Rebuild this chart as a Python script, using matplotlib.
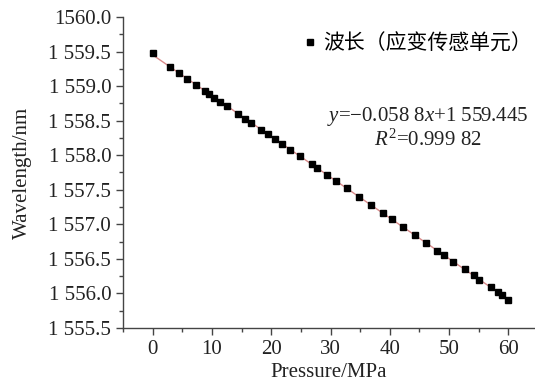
import numpy as np
import matplotlib
matplotlib.use("Agg")
import matplotlib.pyplot as plt
from matplotlib.ticker import MultipleLocator, FuncFormatter

# pressure (MPa) and measured wavelength (nm)
pressure = [0, 3.0, 4.4, 5.8, 7.3, 8.8, 9.5, 10.4, 11.4, 12.5, 14.4, 15.6, 16.6,
            18.3, 19.4, 20.7, 21.8, 23.2, 24.8, 26.8, 27.7, 29.4, 30.9, 32.7,
            34.8, 36.9, 38.9, 40.3, 42.2, 44.3, 46.1, 48.0, 49.1, 50.7, 52.7,
            54.2, 55.1, 57.0, 58.3, 59.0, 59.9]
wavelength = [1559.48, 1559.27, 1559.19, 1559.10, 1559.02, 1558.93, 1558.89,
              1558.83, 1558.77, 1558.71, 1558.60, 1558.53, 1558.47, 1558.37,
              1558.31, 1558.23, 1558.16, 1558.08, 1557.99, 1557.87, 1557.82,
              1557.72, 1557.63, 1557.52, 1557.40, 1557.28, 1557.16, 1557.08,
              1556.96, 1556.84, 1556.73, 1556.62, 1556.56, 1556.46, 1556.35,
              1556.26, 1556.20, 1556.09, 1556.02, 1555.98, 1555.90]
legend_label = "波长（应变传感单元）"
eq_text = r"$y$=−0.058 8$x$+1 559.445"
r2_text = r"$R^2$=0.999 82"

plt.rcParams['font.family'] = ['Liberation Serif', 'Noto Sans CJK SC', 'DejaVu Sans']
plt.rcParams['mathtext.fontset'] = 'custom'
plt.rcParams['mathtext.it'] = 'Liberation Serif:italic'
plt.rcParams['mathtext.rm'] = 'Liberation Serif'

fig = plt.figure(figsize=(5.35, 3.85), dpi=100)
ax = fig.add_axes([0.23, 0.148, 0.77, 0.808])

x = np.array(pressure)
y = np.array(wavelength)
k, b = np.polyfit(x, y, 1)
ax.plot(x, k * x + b, color='#d98a8a', lw=1.0, zorder=1)
ax.plot(x, y, 's', color='black', markersize=5, zorder=2)

ax.set_xlim(-5, 64.5)
ax.set_ylim(1555.5, 1560.0)
ax.xaxis.set_major_locator(MultipleLocator(10))
ax.xaxis.set_minor_locator(MultipleLocator(5))
ax.yaxis.set_major_locator(MultipleLocator(0.5))
ax.yaxis.set_minor_locator(MultipleLocator(0.25))

def yfmt(v, pos):
    s = "%.1f" % v
    if v >= 1559.99:
        return s
    return s[0] + " " + s[1:]

ax.yaxis.set_major_formatter(FuncFormatter(yfmt))

for side in ['top', 'right']:
    ax.spines[side].set_visible(False)
for side in ['left', 'bottom']:
    ax.spines[side].set_color('#444444')
    ax.spines[side].set_linewidth(1.0)
ax.tick_params(which='both', direction='out', colors='#444444', labelcolor='#222222',
               labelsize=15)
ax.tick_params(which='major', length=5, width=1)
ax.tick_params(which='minor', length=3, width=1)

ax.set_xlabel("Pressure/MPa", fontsize=15, color='#222222', labelpad=3)
ax.set_ylabel("Wavelength/nm", fontsize=15, color='#222222', labelpad=12)

ax.plot([], [], 's', color='black', markersize=5, label=legend_label)
ax.legend(loc='upper right', bbox_to_anchor=(1.022, 0.99), frameon=False,
          prop={'family': ['Noto Sans CJK SC'], 'size': 15},
          handletextpad=0.2, handlelength=0.8, markerscale=1.0, borderaxespad=0.2)

ax.text(0.74, 0.68, eq_text, transform=ax.transAxes, ha='center', va='center',
        fontsize=15, color='#222222')
ax.text(0.74, 0.605, r2_text, transform=ax.transAxes, ha='center', va='center',
        fontsize=15, color='#222222')

fig.savefig("out.png", dpi=100)
